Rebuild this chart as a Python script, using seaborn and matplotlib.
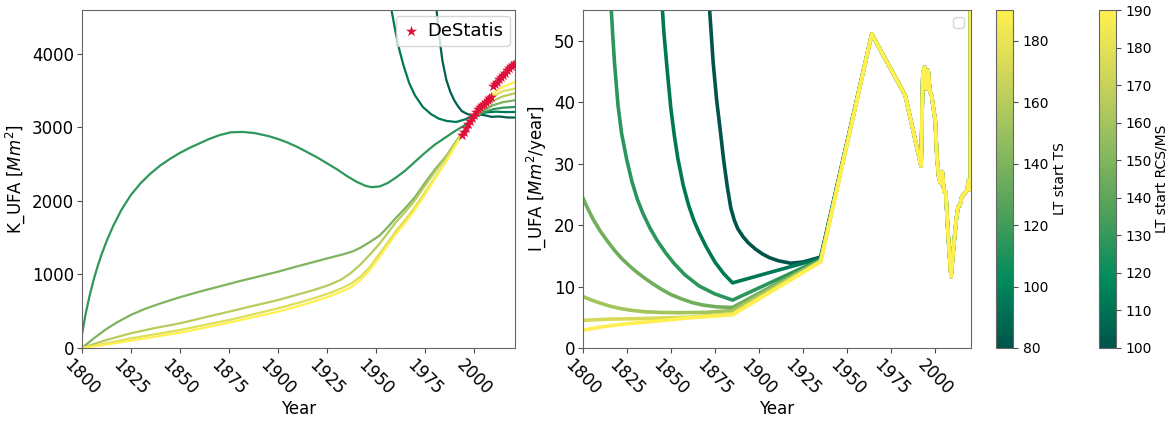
import numpy as np
import pandas as pd
import matplotlib
matplotlib.use("Agg")
import matplotlib.pyplot as plt
import seaborn as sns
from matplotlib.colors import LinearSegmentedColormap, Normalize
from matplotlib.cm import ScalarMappable

# ---- left panel: stock K_UFA per lifetime start (TS) ----
lt_ts = [85, 95, 115, 140, 160, 175, 190]
k_years = [
    [1979, 1981, 1982, 1983, 1984, 1986, 1988, 1990, 1992, 1994, 1997, 2000, 2003,
     2006, 2009, 2013, 2017, 2021],
    [1956, 1958, 1960, 1962, 1964, 1967, 1970, 1974, 1978, 1982, 1986, 1991, 1996,
     2001, 2006, 2011, 2016, 2021],
    [1800, 1802, 1804, 1806, 1808, 1810, 1813, 1816, 1820, 1825, 1830, 1835, 1840,
     1845, 1850, 1855, 1860, 1865, 1870, 1876, 1882, 1888, 1895, 1900, 1905, 1910,
     1915, 1920, 1925, 1930, 1935, 1940, 1945, 1948, 1952, 1956, 1960, 1965, 1970,
     1975, 1980, 1985, 1990, 1995, 2000, 2005, 2010, 2015, 2021],
    [1800, 1806, 1812, 1818, 1825, 1832, 1840, 1850, 1860, 1870, 1880, 1890, 1900,
     1910, 1920, 1927, 1933, 1938, 1942, 1947, 1952, 1956, 1960, 1965, 1970, 1975,
     1980, 1986, 1990, 1995, 2000, 2005, 2010, 2015, 2021],
    [1800, 1812, 1825, 1837, 1850, 1862, 1875, 1887, 1900, 1910, 1918, 1926, 1932,
     1937, 1942, 1947, 1952, 1956, 1960, 1965, 1969, 1975, 1980, 1986, 1990, 1995,
     2000, 2005, 2010, 2015, 2021],
    [1800, 1812, 1825, 1837, 1850, 1862, 1875, 1887, 1900, 1912, 1920, 1926, 1932,
     1937, 1942, 1947, 1952, 1956, 1960, 1965, 1969, 1975, 1980, 1986, 1990, 1995,
     2000, 2005, 2010, 2015, 2021],
    [1800, 1812, 1825, 1837, 1850, 1862, 1875, 1887, 1900, 1912, 1920, 1926, 1932,
     1937, 1942, 1947, 1952, 1956, 1960, 1965, 1969, 1975, 1980, 1986, 1990, 1995,
     2000, 2005, 2010, 2015, 2021],
]
k_values = [
    [5000, 4590, 4330, 4100, 3900, 3640, 3480, 3365, 3280, 3215, 3175, 3160, 3170,
     3160, 3140, 3145, 3132, 3130],
    [4900, 4590, 4300, 4050, 3850, 3600, 3430, 3274, 3180, 3117, 3085, 3070, 3110,
     3170, 3200, 3210, 3205, 3206],
    [180, 480, 720, 930, 1110, 1270, 1480, 1660, 1870, 2080, 2240, 2370, 2480,
     2570, 2650, 2720, 2780, 2840, 2890, 2930, 2935, 2920, 2880, 2840, 2790, 2730,
     2660, 2590, 2510, 2430, 2340, 2260, 2200, 2185, 2195, 2240, 2310, 2410, 2530,
     2650, 2760, 2850, 2940, 3020, 3120, 3200, 3245, 3265, 3274],
    [0, 130, 250, 350, 450, 530, 605, 690, 765, 835, 905, 970, 1036,
     1110, 1180, 1230, 1270, 1310, 1360, 1440, 1530, 1640, 1760, 1900, 2050, 2240,
     2420, 2610, 2770, 2960, 3120, 3230, 3300, 3340, 3365],
    [0, 105, 200, 270, 335, 412, 493, 570, 651, 725, 785, 855, 925,
     1013, 1130, 1270, 1420, 1560, 1700, 1850, 1975, 2200, 2390, 2600, 2760, 2960,
     3140, 3270, 3360, 3420, 3460],
    [0, 60, 131, 185, 244, 310, 380, 455, 538, 625, 690, 742, 805,
     870, 965, 1100, 1285, 1430, 1580, 1740, 1880, 2110, 2310, 2555, 2735, 2950,
     3150, 3300, 3420, 3490, 3525],
    [0, 45, 100, 152, 208, 272, 344, 415, 493, 580, 645, 697, 760,
     820, 920, 1060, 1240, 1390, 1540, 1700, 1840, 2080, 2290, 2540, 2720, 2940,
     3160, 3330, 3460, 3550, 3613],
]

destatis_years = list(range(1994, 2022))
destatis_vals = [2890, 2940, 2990, 3040, 3090, 3130, 3170, 3210, 3240, 3270, 3300,
                 3320, 3345, 3370, 3390, 3410, 3560, 3590, 3620, 3650, 3680, 3710,
                 3740, 3770, 3800, 3830, 3850, 3870]

# ---- right panel: inflow I_UFA per lifetime start (RCS/MS) ----
lt_rcs = [100, 112, 128, 145, 160, 175, 190]
tail_years = [1964, 1983, 1992, 1993, 1994, 1995, 1996, 1997, 1998, 1999, 2000, 2001,
              2002, 2003, 2004, 2005, 2006, 2007, 2008, 2009, 2010, 2011, 2012, 2013,
              2014, 2015, 2016, 2017, 2018, 2019, 2020, 2021]
tail_vals = [51.1, 41.1, 29.6, 44.7, 45.7, 42.2, 45.2, 41.7, 41.1, 39.0, 37.1, 31.0,
             27.9, 26.8, 28.7, 25.4, 25.4, 20.0, 15.5, 11.6, 15.0, 18.1, 21.0, 23.0,
             23.2, 24.5, 25.0, 25.2, 25.7, 27.3, 25.7, 2000.0]
i_years = [
    [1870, 1872, 1874, 1876, 1878, 1880, 1882, 1884, 1886, 1888, 1891, 1894, 1898,
     1902, 1906, 1911, 1918, 1925, 1930, 1935],
    [1844, 1845, 1846, 1848, 1850, 1852, 1854, 1857, 1860, 1863, 1866, 1870, 1875,
     1880, 1885, 1935],
    [1815, 1816, 1817, 1818, 1820, 1822, 1825, 1828, 1831, 1834, 1838, 1842, 1847,
     1852, 1858, 1866, 1875, 1885, 1935],
    [1800, 1803, 1806, 1810, 1814, 1818, 1822, 1826, 1830, 1835, 1840, 1845, 1850,
     1856, 1862, 1868, 1876, 1885, 1935],
    [1800, 1805, 1810, 1815, 1820, 1827, 1835, 1845, 1855, 1870, 1885, 1935],
    [1800, 1815, 1835, 1860, 1885, 1935],
    [1800, 1808, 1815, 1825, 1835, 1848, 1860, 1872, 1885, 1935],
]
i_values = [
    [70, 55, 46.5, 40.3, 35.5, 30.5, 26.3, 22.8, 20.8, 19.4, 18.1, 17.1, 16.1,
     15.3, 14.7, 14.2, 13.8, 14.0, 14.4, 14.8],
    [62, 56, 51.5, 45, 39, 34.5, 30.8, 26.5, 23.3, 20.8, 18.8, 16.5, 14.0,
     12.1, 10.6, 14.6],
    [62, 56, 51, 46.5, 39.5, 35, 30.6, 27, 24.2, 22, 19.6, 17.6, 15.5,
     13.7, 11.9, 10.1, 8.8, 7.8, 14.4],
    [24.5, 22.6, 20.9, 19.0, 17.4, 15.9, 14.6, 13.5, 12.5, 11.4, 10.4, 9.5, 8.7,
     8.0, 7.4, 7.0, 6.7, 6.6, 14.3],
    [8.4, 7.8, 7.3, 6.85, 6.5, 6.15, 5.9, 5.78, 5.75, 5.8, 6.1, 14.2],
    [4.5, 4.7, 4.8, 5.0, 5.6, 14.1],
    [2.9, 3.3, 3.6, 3.95, 4.2, 4.55, 4.9, 5.15, 5.4, 14.0],
]

cmap = LinearSegmentedColormap.from_list(
    "lt", ["#00544a", "#008a5c", "#4fa05a", "#8fbb5f", "#cdd55a", "#fff050"])
norm_ts = Normalize(80, 190)
norm_rcs = Normalize(100, 190)

rows = []
for lt, yrs, vals in zip(lt_ts, k_years, k_values):
    for y, v in zip(yrs, vals):
        rows.append((lt, y, v))
df_k = pd.DataFrame(rows, columns=["LT", "Year", "K_UFA"])

rows = []
for lt, yrs, vals in zip(lt_rcs, i_years, i_values):
    for y, v in zip(yrs + tail_years, vals + tail_vals):
        rows.append((lt, y, v))
df_i = pd.DataFrame(rows, columns=["LT", "Year", "I_UFA"])

plt.rcParams["font.family"] = ["DejaVu Sans"]
plt.rcParams["axes.edgecolor"] = "0.4"

fig = plt.figure(figsize=(11.69, 4.21), dpi=100)
ax1 = fig.add_axes([0.0701, 0.1734, 0.3704, 0.8026])
ax2 = fig.add_axes([0.4985, 0.1734, 0.3321, 0.8026])
cax1 = fig.add_axes([0.852, 0.1734, 0.0145, 0.8026])
cax2 = fig.add_axes([0.940, 0.1734, 0.0145, 0.8026])

sns.lineplot(data=df_k, x="Year", y="K_UFA", hue="LT", palette=cmap, hue_norm=norm_ts,
             estimator=None, legend=False, linewidth=1.6, ax=ax1)
sns.scatterplot(x=destatis_years, y=destatis_vals, marker="*", color="#e0103c", s=70,
                linewidth=0, label="DeStatis", zorder=5, ax=ax1)
ax1.legend(loc="upper right", fontsize=13, handlelength=1.0, handletextpad=0.4,
           borderpad=0.35, borderaxespad=0.3)
ax1.set_xlim(1800, 2021)
ax1.set_ylim(0, 4590)
ax1.set_xticks(range(1800, 2001, 25))
ax1.set_yticks(range(0, 4001, 1000))
ax1.set_xlabel("Year", fontsize=12, labelpad=1)
ax1.set_ylabel("K_UFA [$Mm^2$]", fontsize=12)

sns.lineplot(data=df_i, x="Year", y="I_UFA", hue="LT", palette=cmap, hue_norm=norm_rcs,
             estimator=None, legend=False, linewidth=2.6, ax=ax2)
ax2.legend(handles=[], loc="upper right")
ax2.set_xlim(1800, 2020.3)
ax2.set_ylim(0, 55)
ax2.set_xticks(range(1800, 2001, 25))
ax2.set_yticks(range(0, 51, 10))
ax2.set_xlabel("Year", fontsize=12, labelpad=1)
ax2.set_ylabel("I_UFA [$Mm^2$/year]", fontsize=12)

for ax in (ax1, ax2):
    ax.tick_params(labelsize=12, length=3.5, pad=2, color="0.3")
    plt.setp(ax.get_xticklabels(), rotation=-45)

cb1 = fig.colorbar(ScalarMappable(norm=norm_ts, cmap=cmap), cax=cax1,
                   ticks=range(80, 181, 20))
cb1.set_label("LT start TS", fontsize=10, labelpad=3)
cb2 = fig.colorbar(ScalarMappable(norm=norm_rcs, cmap=cmap), cax=cax2,
                   ticks=range(100, 191, 10))
cb2.set_label("LT start RCS/MS", fontsize=10, labelpad=2)
for cb in (cb1, cb2):
    cb.ax.tick_params(labelsize=10, color="0.3")
    cb.outline.set_edgecolor("0.4")

fig.savefig("out.png", dpi=100)
